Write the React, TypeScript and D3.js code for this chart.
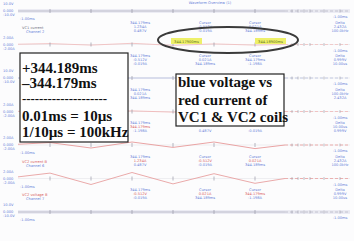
import React from 'react';
import * as d3 from 'd3';

const W = 354;
const H = 241;

// sample (cursor) indices along the time axis
const sampleIdx = [0, 1, 2, 3, 4, 5];
const rowNames = ['VC1 voltage', 'VC1 current', 'VC2 voltage', 'VC2 current', 'VC1 current B', 'VC2 current B', 'VC2 voltage B'];
const rowColors = ['#b8b8c8', '#f0c0c0', '#b8c0e0', '#f0b8b8', '#e89a9a', '#e8a0a0', '#b8b8c8'];
// normalised trace values at each sample (-1 .. 1)
const row0 = [0, 0, 0, 0, 0, 0];
const row1 = [0.15, -0.1, 0.2, -0.15, 0.1, -0.1];
const row2 = [0, 0, 0, 0, 0, 0];
const row3 = [0.1, -0.1, 0.1, -0.1, 0.1, -0.1];
const row4 = [0.4, -0.5, 0.5, -0.4, 0.5, -0.6];
const row5 = [0.9, -1, 1, -0.9, 0.8, -0.8];
const row6 = [0, 0, 0, 0, 0, 0];
const rowValues = [row0, row1, row2, row3, row4, row5, row6];
const axisTop = ['10.0V', '2.00A', '10.0V', '2.00A', '2.00A', '2.00A', '10.0V'];
const axisMid = ['0.000', '0.000', '0.000', '0.000', '0.000', '0.000', '0.000'];
const axisBot = ['-10.0V', '-2.00A', '-10.0V', '-2.00A', '-2.00A', '-2.00A', '-10.0V'];
const cursorA = ['344.179ms', '1.234A', '-0.512V', '0.021A'];
const cursorB = ['344.189ms', '-1.198A', '0.487V', '-0.019A'];
const deltaVals = ['10.00us', '2.432A', '0.999V', '100.0kHz'];
const highlightTexts = ['344.17900ms', '344.18900ms'];

const title = 'Waveform Overview (1)';
const leftBox = ['+344.189ms', '\u2013344.179ms', '--------------------', '0.01ms = 10\u00b5s', '1/10\u00b5s = 100kHz'];
const rightBox = ['blue voltage vs', 'red current of', 'VC1 & VC2 coils'];

const boxes = [
  { x: 20, y: 53, w: 108, h: 89 },
  { x: 176, y: 74, w: 108, h: 52 },
];

function hidden(tx: number, ty: number, width: number, anchor: 'start' | 'middle') {
  const x0 = anchor === 'middle' ? tx - width / 2 : tx;
  const x1 = x0 + width;
  return boxes.some(b => x1 > b.x - 1 && x0 < b.x + b.w + 1 && ty > b.y - 1 && ty - 4 < b.y + b.h + 1);
}

export default function App() {
  const x = d3.scaleLinear().domain([0, 5]).range([50, 255]);
  const rowY = d3.scaleLinear().domain([0, 6]).range([11, 212]);
  const blue = '#6680d8';
  const small = { fontFamily: 'DejaVu Sans', fontSize: 3.6 } as const;

  const T = (key: string, tx: number, ty: number, s: string, fill: string, anchor: 'start' | 'middle' = 'start') =>
    hidden(tx, ty, s.length * 2.2, anchor) ? null : (
      <text key={key} x={tx} y={ty} fill={fill} textAnchor={anchor} style={small}>{s}</text>
    );

  return (
    <svg width={W} height={H} style={{ position: 'absolute', left: 0, top: 0, background: '#fff' }}>
      <rect width={W} height={H} fill="#fcfcfd" />
      <text x={210} y={4} textAnchor="middle" fill={blue} style={small}>{title}</text>
      {rowValues.map((vals, r) => {
        const cy = rowY(r);
        const amp = 6;
        const pts: [number, number][] = vals.map((v, i) => [x(sampleIdx[i]), cy - v * amp]);
        pts.unshift([18, cy - vals[0] * amp * 0.3]);
        pts.push([285, cy]);
        const line = d3.line().curve(d3.curveLinear)(pts) || '';
        const band = r === 0 || r === 6;
        const red = r >= 4 ? '#d86060' : '#707080';
        return (
          <g key={r}>
            {band && <rect x={18} y={cy - 2} width={332} height={4} fill="#ececf4" />}
            <line x1={18} x2={350} y1={cy} y2={cy} stroke="#e4e4ea" strokeWidth={0.6} />
            <path d={line} fill="none" stroke={rowColors[r]} strokeWidth={0.9} />
            <line x1={285} x2={350} y1={cy} y2={cy} stroke={rowColors[r]} strokeWidth={0.8} strokeDasharray="3 2" />
            {sampleIdx.map((s, i) => (
              <line key={i} x1={x(s)} x2={x(s)} y1={cy - 2} y2={cy + 2} stroke="#9a9aa8" strokeWidth={0.7} />
            ))}
            {[292, 298, 304, 310, 324, 340].map((tx, i) => (
              <line key={'t' + i} x1={tx} x2={tx} y1={cy - 1.5} y2={cy + 1.5} stroke="#9a9aa8" strokeWidth={0.6} />
            ))}
            {T('a', 3, cy - 6, axisTop[r], blue)}
            {T('b', 3, cy + 1, axisMid[r], blue)}
            {T('c', 3, cy + 5, axisBot[r], blue)}
            {T('d', 20, cy + 9, '-1.00ms', blue)}
            {r > 0 && T('e', 22, cy - 16, rowNames[r], red)}
            {r > 0 && T('f', 26, cy - 12, 'Channel ' + (r + 1), blue)}
            {r > 0 && [140, 205, 255].map((cx, c) => (
              <g key={'c' + c}>
                {T('g', cx, cy - 21, c === 0 ? cursorA[0] : 'Cursor', blue, 'middle')}
                {T('h', cx, cy - 17, cursorA[(r + c) % 4], r >= 4 ? '#d86060' : blue, 'middle')}
                {T('i', cx, cy - 13, cursorB[(r + c + 1) % 4], blue, 'middle')}
              </g>
            ))}
            {r > 0 && T('j', 340, cy - 21, 'Delta', blue, 'middle')}
            {r > 0 && T('k', 340, cy - 17, deltaVals[r % 4], blue, 'middle')}
            {r > 0 && T('l', 340, cy - 13, deltaVals[(r + 2) % 4], blue, 'middle')}
            {T('m', 340, cy + 7, '-1.00ms', blue, 'middle')}
          </g>
        );
      })}

      {/* highlighted cursor values */}
      {highlightTexts.map((t, i) => {
        const hx = [171, 255][i];
        return (
          <g key={i}>
            <rect x={hx} y={38} width={31} height={6} fill="#eef06a" />
            <text x={hx + 15.5} y={42.5} textAnchor="middle" fill="#607020" style={small}>{t}</text>
          </g>
        );
      })}
      <ellipse cx={228} cy={40} rx={70} ry={13} fill="none" stroke="#3a3a3a" strokeWidth={2} />

      {/* left annotation box */}
      <rect x={20} y={53} width={108} height={89} fill="#fff" stroke="#222" strokeWidth={1.2} />
      {leftBox.map((t, i) => (
        <text key={i} x={22} y={[73, 88, 103, 121, 137][i]} fill="#111"
          style={{ fontFamily: 'Liberation Serif', fontWeight: 'bold', fontSize: i === 2 ? 13 : 15 }}
          textLength={i === 2 ? 85 : undefined}>{t}</text>
      ))}

      {/* right annotation box */}
      <rect x={176} y={74} width={108} height={52} fill="#fff" stroke="#222" strokeWidth={1.2} />
      {rightBox.map((t, i) => (
        <text key={i} x={178} y={[87, 105, 122][i]} fill="#111"
          style={{ fontFamily: 'Liberation Serif', fontWeight: 'bold', fontSize: 15 }}>{t}</text>
      ))}
    </svg>
  );
}
